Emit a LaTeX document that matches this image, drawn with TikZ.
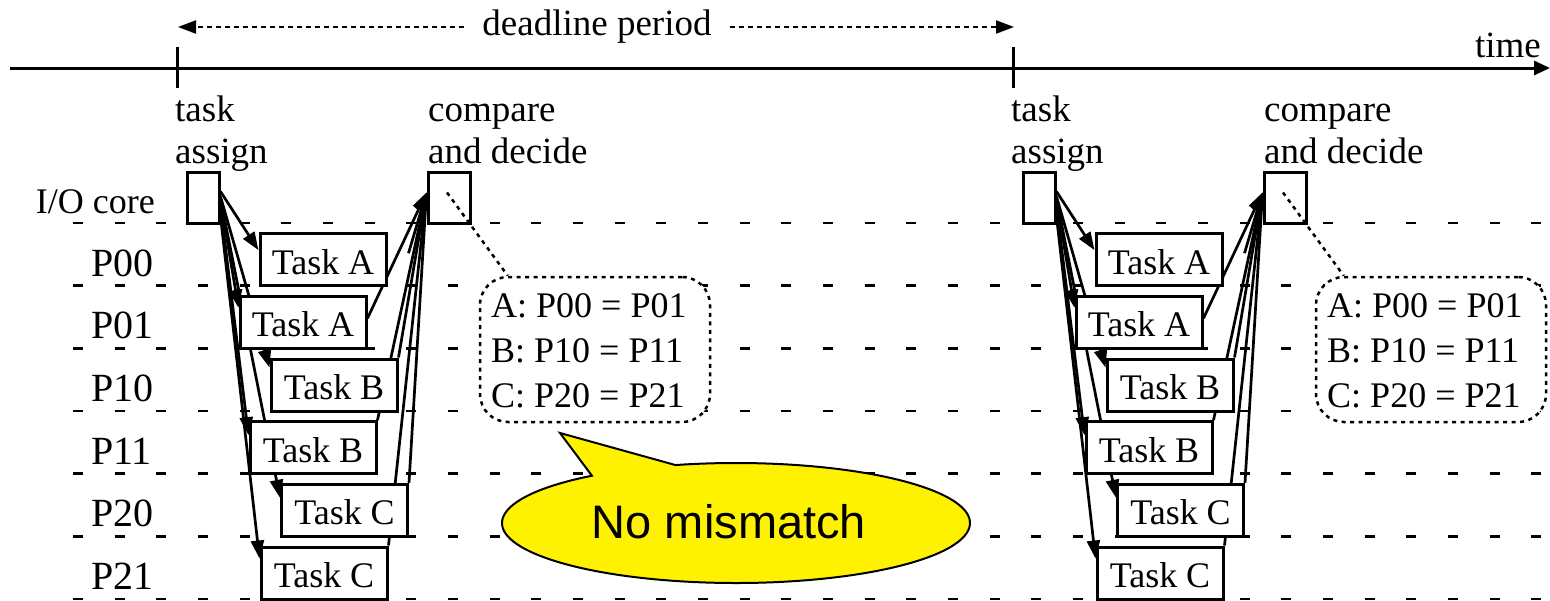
\documentclass[tikz,border=0pt]{standalone}
\usepackage{fontspec}
\setmainfont{Liberation Serif}
\newfontfamily\arialf{Liberation Sans}
\usetikzlibrary{arrows.meta,calc}
\pgfdeclarelayer{background}
\pgfsetlayers{background,main}
\begin{document}
\begin{tikzpicture}[x=1pt,y=-1pt,
  lbl/.style={inner sep=0pt, font=\fontsize{37}{44}\selectfont},
  rowlbl/.style={inner sep=0pt, anchor=base west, font=\fontsize{40}{48}\selectfont},
  taskbox/.style={draw, line width=3pt, fill=white, minimum width=126pt, minimum height=52pt, inner sep=0pt, text height=29pt, text depth=0pt, font=\fontsize{36}{42}\selectfont},
  corebox/.style={draw, line width=3pt, fill=white, minimum height=51pt, inner sep=0pt},
  rowline/.style={line width=2.8pt, dash pattern=on 10pt off 31.67pt},
  conn/.style={line width=2.7pt, -{Triangle[length=18pt,width=13pt]}},
  dlarrow/.style={line width=2.2pt, dash pattern=on 5pt off 4pt, -{Triangle[length=18pt,width=13pt]}},
  cbtxt/.style={inner sep=0pt, anchor=base west, font=\fontsize{36}{42}\selectfont},
  dotline/.style={line width=2.5pt, dash pattern=on 4pt off 4.5pt}
]
\useasboundingbox (0,0) rectangle (1550,600);

% row dashed lines
\begin{pgfonlayer}{background}
\foreach \k in {0,...,6}
  \draw[rowline] (73,{223+62.667*\k}) -- (1545,{223+62.667*\k});
\end{pgfonlayer}

% time axis
\coordinate (axL) at (10,68);
\coordinate (axR) at (1550,68);
\draw[line width=3pt, -{Triangle[length=16pt,width=14pt]}] (axL) -- (axR);
\node[lbl, anchor=base east] (time) at (1541,57) {time};
\coordinate (tk1a) at (177,47); \coordinate (tk1b) at (177,88);
\coordinate (tk2a) at (1013,47); \coordinate (tk2b) at (1013,88);
\draw[line width=3pt] (tk1a) -- (tk1b);
\draw[line width=3pt] (tk2a) -- (tk2b);

% deadline period
\node[lbl, inner xsep=18pt] (dl) at (597,27) {deadline period};
\coordinate (dlL) at (178,27);
\coordinate (dlR) at (1014,27);
\draw[dlarrow] (dl.west) -- (dlL);
\draw[dlarrow] (dl.east) -- (dlR);

% row labels
\node[lbl, anchor=base east, font=\fontsize{36}{43}\selectfont] (iol) at (155,213) {I/O core};
\node[rowlbl] (r0) at (91,276) {P00};
\node[rowlbl] (r1) at (91,338.7) {P01};
\node[rowlbl] (r2) at (91,401.3) {P10};
\node[rowlbl] (r3) at (91,464) {P11};
\node[rowlbl] (r4) at (91,526.7) {P20};
\node[rowlbl] (r5) at (91,589.3) {P21};

\foreach \g/\dx in {1/0,2/836} {
  \node[lbl, anchor=base west] (ta\g) at (\dx+175,121) {task};
  \node[lbl, anchor=base west] (as\g) at (\dx+175,163) {assign};
  \node[lbl, anchor=base west] (cm\g) at (\dx+428,121) {compare};
  \node[lbl, anchor=base west] (ad\g) at (\dx+428,163) {and decide};

  \node[corebox, minimum width=32pt] (io\g) at (\dx+203,197.5) {};
  \node[corebox, minimum width=42pt] (cmp\g) at (\dx+449,197.5) {};

  \node[taskbox] (a0\g) at (\dx+323,259.7) {Task A};
  \node[taskbox] (a1\g) at (\dx+303,322.3) {Task A};
  \node[taskbox] (b0\g) at (\dx+334,385) {Task B};
  \node[taskbox] (b1\g) at (\dx+313,447.7) {Task B};
  \node[taskbox] (c0\g) at (\dx+344.5,510.3) {Task C};
  \node[taskbox] (c1\g) at (\dx+324,573) {Task C};

  \coordinate (cin\g) at ($(cmp\g.north west)+(0,22)$);
  \coordinate (p0\g) at ($(a0\g.north east)+(21,21)$);

  \begin{pgfonlayer}{background}
    \draw[conn] ($(io\g.north east)+(0,21)$) -- ($(a0\g.north west)+(0,18)$);
    \draw[conn] ($(io\g.north east)+(0,30)$) -- ($(a1\g.north west)+(0,13)$);
    \draw[conn] ($(io\g.north east)+(0,26)$) -- ($(b0\g.north west)+(0,10)$);
    \draw[conn] ($(io\g.north east)+(0,36)$) -- ($(b1\g.north west)+(0,15)$);
    \draw[conn] ($(io\g.north east)+(0,28)$) -- ($(c0\g.north west)+(0,15)$);
    \draw[conn] ($(io\g.north east)+(0,46)$) -- ($(c1\g.north west)+(0,13)$);

    \draw[conn] (p0\g) -- (cin\g);
    \draw[conn] ($(a1\g.east)+(0,-4)$) -- (cin\g);
    \draw[conn] (b0\g.north east) -- (cin\g);
    \draw[conn] (b1\g.north east) -- (cin\g);
    \draw[conn] (c0\g.north east) -- (cin\g);
    \draw[conn] (c1\g.north east) -- (cin\g);
  \end{pgfonlayer}

  \node[draw, dotline, rounded corners=28pt, fill=white, minimum width=230pt, minimum height=145pt, inner sep=0pt] (cb\g) at (\dx+595,349.5) {};
  \node[cbtxt] (ca\g) at (\dx+491,317) {A: P00 = P01};
  \node[cbtxt] (cbb\g) at (\dx+491,362) {B: P10 = P11};
  \node[cbtxt] (cc\g) at (\dx+491,407) {C: P20 = P21};
  \draw[dotline] ($(cmp\g.center)+(-2,-5)$) -- ($(cb\g.north west)+(29,0)$);
}

% callout
\coordinate (ell) at (736,523);
\coordinate (tip) at (560,433);
\draw[line width=2pt, fill=yellow] (tip) -- ($(ell)+(232:234 and 60)$) arc[start angle=232, end angle=-105, x radius=234, y radius=60] -- cycle;
\node[inner sep=0pt, anchor=base, font=\arialf\fontsize{47}{56}\selectfont] (nm) at (729,538) {No mismatch};
\end{tikzpicture}
\end{document}
